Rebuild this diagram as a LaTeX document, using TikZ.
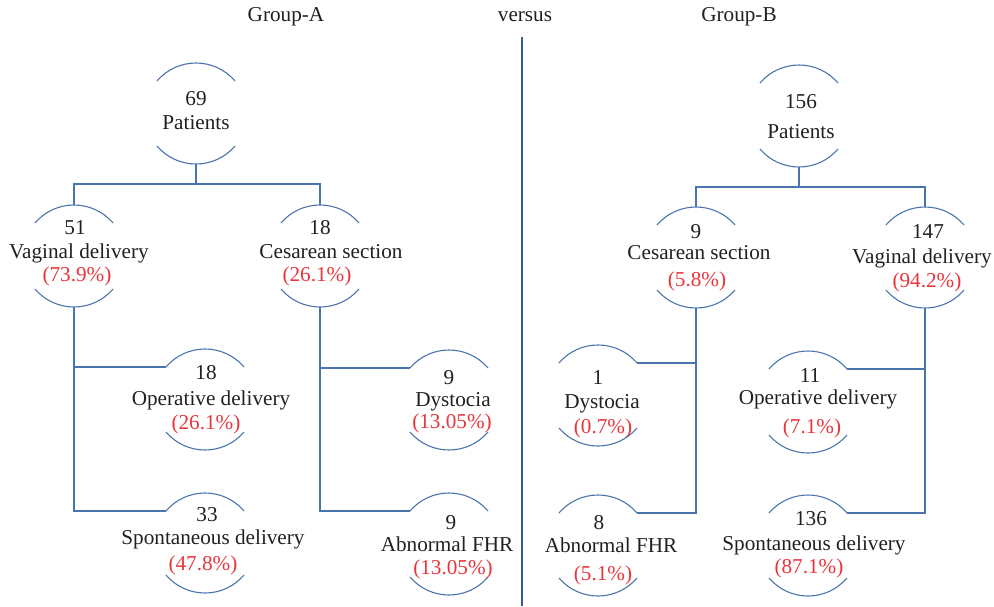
\documentclass[tikz,border=0pt]{standalone}
\usepackage{fontspec}
\setmainfont{Liberation Serif}
\definecolor{arcblue}{HTML}{4A74AC}
\definecolor{pctred}{HTML}{E8353B}
\definecolor{txt}{HTML}{231F20}
\tikzset{
  arcline/.style={draw=arcblue, line width=1.1pt},
  conn/.style={draw=arcblue, line width=1.3pt},
  lbl/.style={inner sep=0pt, text=txt, font=\fontsize{21.2}{24}\selectfont, text height=14pt, text depth=4pt},
  pct/.style={lbl, text=pctred},
  bracket/.pic={
    \draw[arcline] (-39,0) .. controls (-18.5,-24) and (18.5,-24) .. (39,0);
    \draw[arcline] (-39,#1) .. controls (-18.5,#1+24) and (18.5,#1+24) .. (39,#1);
    \coordinate (-tl) at (-39,0);
    \coordinate (-tr) at (39,0);
    \coordinate (-t) at (0,-18);
    \coordinate (-b) at (0,#1+18);
  }
}
\begin{document}
\begin{tikzpicture}[x=1pt,y=-1pt]
\useasboundingbox (0,0) rectangle (994,606);

% titles
\node[lbl] (ga) at (286,16) {Group-A};
\node[lbl] (vs) at (525,16) {versus};
\node[lbl] (gb) at (739,16) {Group-B};
\coordinate (divtop) at (522,37);
\coordinate (divbot) at (522,606);
\draw[draw=arcblue!80!black, line width=1.1pt] (divtop) -- (divbot);

% ---------- Group A ----------
\pic (aroot) at (196,81) {bracket=65};
\node[lbl] (aroot-n) at (196,100) {69};
\node[lbl] (aroot-l) at (196,124) {Patients};

\pic (avag) at (74,223) {bracket=66};
\node[lbl] (avag-n) at (75,229) {51};
\node[lbl] (avag-l) at (79,253) {Vaginal delivery};
\node[pct] (avag-p) at (77,276) {(73.9\%)};

\pic (aces) at (320,223) {bracket=66};
\node[lbl] (aces-n) at (320,229) {18};
\node[lbl] (aces-l) at (331,253) {Cesarean section};
\node[pct] (aces-p) at (317,276) {(26.1\%)};

\pic (aop) at (205,367) {bracket=65};
\node[lbl] (aop-n) at (206,374) {18};
\node[lbl] (aop-l) at (211,400) {Operative delivery};
\node[pct] (aop-p) at (206,424) {(26.1\%)};

\pic (asp) at (205,511) {bracket=64};
\node[lbl] (asp-n) at (207,516) {33};
\node[lbl] (asp-l) at (213,539) {Spontaneous delivery};
\node[pct] (asp-p) at (203,565) {(47.8\%)};

\pic (adys) at (449,368) {bracket=64};
\node[lbl] (adys-n) at (449,379) {9};
\node[lbl] (adys-l) at (453,401) {Dystocia};
\node[pct] (adys-p) at (452,423) {(13.05\%)};

\pic (aabn) at (449,511) {bracket=66};
\node[lbl] (aabn-n) at (451,524) {9};
\node[lbl] (aabn-l) at (447,546) {Abnormal FHR};
\node[pct] (aabn-p) at (453,569) {(13.05\%)};

\coordinate (aj) at (196,184);
\draw[conn] (aroot-b) -- (aj);
\draw[conn] (avag-t) |- (aj) -| (aces-t);
\draw[conn] (avag-b) |- (aop-tl);
\draw[conn] (avag-b) |- (asp-tl);
\draw[conn] (aces-b) |- (adys-tl);
\draw[conn] (aces-b) |- (aabn-tl);

% ---------- Group B ----------
\pic (broot) at (799,83) {bracket=66};
\node[lbl] (broot-n) at (801,103) {156};
\node[lbl] (broot-l) at (801,133) {Patients};

\pic (bces) at (696,225) {bracket=65};
\node[lbl] (bces-n) at (696,233) {9};
\node[lbl] (bces-l) at (699,254) {Cesarean section};
\node[pct] (bces-p) at (697,281) {(5.8\%)};

\pic (bvag) at (925,225) {bracket=65};
\node[lbl] (bvag-n) at (928,233) {147};
\node[lbl] (bvag-l) at (922,258) {Vaginal delivery};
\node[pct] (bvag-p) at (927,282) {(94.2\%)};

\pic (bdys) at (598,363) {bracket=65};
\node[lbl] (bdys-n) at (598,379) {1};
\node[lbl] (bdys-l) at (602,403) {Dystocia};
\node[pct] (bdys-p) at (603,428) {(0.7\%)};

\pic (babn) at (598,513) {bracket=65};
\node[lbl] (babn-n) at (599,524) {8};
\node[lbl] (babn-l) at (611,547) {Abnormal FHR};
\node[pct] (babn-p) at (603,575) {(5.1\%)};

\pic (bop) at (808,369) {bracket=66};
\node[lbl] (bop-n) at (810,377) {11};
\node[lbl] (bop-l) at (818,399) {Operative delivery};
\node[pct] (bop-p) at (812,428) {(7.1\%)};

\pic (bsp) at (808,513) {bracket=65};
\node[lbl] (bsp-n) at (811,520) {136};
\node[lbl] (bsp-l) at (814,545) {Spontaneous delivery};
\node[pct] (bsp-p) at (809,568) {(87.1\%)};

\coordinate (bj) at (799,187);
\draw[conn] (broot-b) -- (bj);
\draw[conn] (bces-t) |- (bj) -| (bvag-t);
\draw[conn] (bces-b) |- (bdys-tr);
\draw[conn] (bces-b) |- (babn-tr);
\draw[conn] (bvag-b) |- (bop-tr);
\draw[conn] (bvag-b) |- (bsp-tr);
\end{tikzpicture}
\end{document}
